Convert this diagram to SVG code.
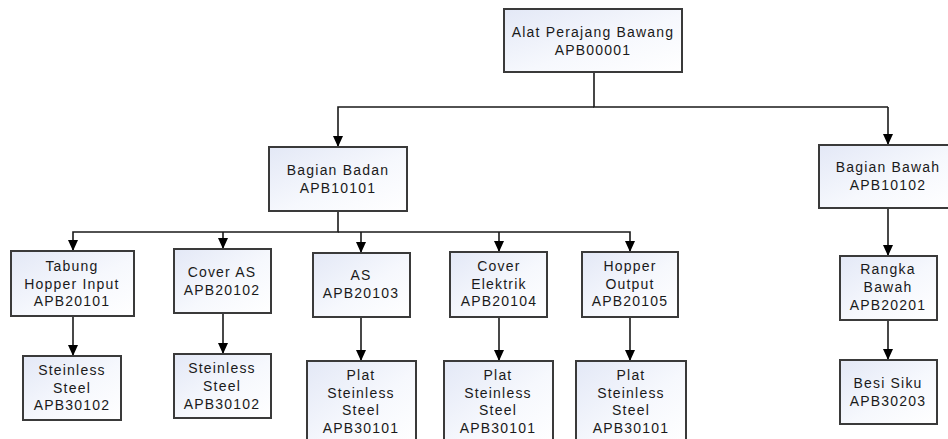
<svg xmlns="http://www.w3.org/2000/svg" width="948" height="439" viewBox="0 0 948 439">
  <style>
    .box { fill: url(#boxFill); stroke: #3a3a3a; stroke-width: 2; }
    .lbl { font-family: "Liberation Sans", Arial, sans-serif; font-size: 14px; fill: #1a1a1a; text-anchor: middle; letter-spacing: 1.2px; }
    .wire { fill: none; stroke: #1a1a1a; stroke-width: 1.6; }
  </style>
  <defs>
    <linearGradient id="boxFill" x1="0" y1="0" x2="1" y2="1">
      <stop offset="0" stop-color="#e3e8f6"/>
      <stop offset="0.55" stop-color="#f6f8fd"/>
      <stop offset="1" stop-color="#ffffff"/>
    </linearGradient>
    <marker id="arrow" markerUnits="userSpaceOnUse" markerWidth="12" markerHeight="10" refX="11" refY="5" orient="auto">
      <path d="M0,0 L11,5 L0,10 Z" fill="#000"/>
    </marker>
  </defs>
  <rect width="948" height="439" fill="#ffffff"/>

  <g id="connectors">
    <path class="wire" d="M594,72 V107 H888"/>
    <path class="wire" d="M594,107 H338 V147" marker-end="url(#arrow)"/>
    <path class="wire" d="M888,107 V145" marker-end="url(#arrow)"/>
    <path class="wire" d="M338,211 V232 H73 V251" marker-end="url(#arrow)"/>
    <path class="wire" d="M223,232 V249" marker-end="url(#arrow)"/>
    <path class="wire" d="M338,232 H630 V252" marker-end="url(#arrow)"/>
    <path class="wire" d="M361,232 V253" marker-end="url(#arrow)"/>
    <path class="wire" d="M499,232 V252" marker-end="url(#arrow)"/>
    <path class="wire" d="M73,316 V356" marker-end="url(#arrow)"/>
    <path class="wire" d="M223,313 V354" marker-end="url(#arrow)"/>
    <path class="wire" d="M361,317 V361" marker-end="url(#arrow)"/>
    <path class="wire" d="M499,317 V361" marker-end="url(#arrow)"/>
    <path class="wire" d="M630,317 V361" marker-end="url(#arrow)"/>
    <path class="wire" d="M888,208 V256" marker-end="url(#arrow)"/>
    <path class="wire" d="M888,320 V360" marker-end="url(#arrow)"/>
  </g>

  <g id="apb00001">
    <rect class="box" x="504" y="9" width="178" height="63"/>
    <text class="lbl" x="593" y="37">Alat Perajang Bawang</text>
    <text class="lbl" x="593" y="55">APB00001</text>
  </g>
  <g id="apb10101">
    <rect class="box" x="269" y="147" width="138" height="64"/>
    <text class="lbl" x="338" y="175">Bagian Badan</text>
    <text class="lbl" x="338" y="193">APB10101</text>
  </g>
  <g id="apb10102">
    <rect class="box" x="819" y="145" width="138" height="63"/>
    <text class="lbl" x="888" y="172">Bagian Bawah</text>
    <text class="lbl" x="888" y="190">APB10102</text>
  </g>
  <g id="apb20101">
    <rect class="box" x="11" y="251" width="123" height="65"/>
    <text class="lbl" x="72" y="271">Tabung</text>
    <text class="lbl" x="72" y="288.5">Hopper Input</text>
    <text class="lbl" x="72" y="306">APB20101</text>
  </g>
  <g id="apb20102">
    <rect class="box" x="174" y="249" width="97" height="64"/>
    <text class="lbl" x="222" y="277">Cover AS</text>
    <text class="lbl" x="222" y="295">APB20102</text>
  </g>
  <g id="apb20103">
    <rect class="box" x="313" y="253" width="97" height="64"/>
    <text class="lbl" x="361" y="280">AS</text>
    <text class="lbl" x="361" y="298">APB20103</text>
  </g>
  <g id="apb20104">
    <rect class="box" x="450" y="252" width="97" height="65"/>
    <text class="lbl" x="499" y="271">Cover</text>
    <text class="lbl" x="499" y="288.5">Elektrik</text>
    <text class="lbl" x="499" y="306">APB20104</text>
  </g>
  <g id="apb20105">
    <rect class="box" x="582" y="252" width="96" height="65"/>
    <text class="lbl" x="630" y="271">Hopper</text>
    <text class="lbl" x="630" y="288.5">Output</text>
    <text class="lbl" x="630" y="306">APB20105</text>
  </g>
  <g id="apb20201">
    <rect class="box" x="840" y="256" width="97" height="64"/>
    <text class="lbl" x="888" y="274">Rangka</text>
    <text class="lbl" x="888" y="292">Bawah</text>
    <text class="lbl" x="888" y="310">APB20201</text>
  </g>
  <g id="apb30102-a">
    <rect class="box" x="23" y="356" width="98" height="64"/>
    <text class="lbl" x="72" y="375">Steinless</text>
    <text class="lbl" x="72" y="392.5">Steel</text>
    <text class="lbl" x="72" y="410">APB30102</text>
  </g>
  <g id="apb30102-b">
    <rect class="box" x="174" y="354" width="97" height="64"/>
    <text class="lbl" x="222" y="373">Steinless</text>
    <text class="lbl" x="222" y="391">Steel</text>
    <text class="lbl" x="222" y="409">APB30102</text>
  </g>
  <g id="apb30101-a">
    <rect class="box" x="307" y="361" width="109" height="85"/>
    <text class="lbl" x="361" y="380">Plat</text>
    <text class="lbl" x="361" y="397.5">Steinless</text>
    <text class="lbl" x="361" y="415">Steel</text>
    <text class="lbl" x="361" y="432.5">APB30101</text>
  </g>
  <g id="apb30101-b">
    <rect class="box" x="444" y="361" width="109" height="85"/>
    <text class="lbl" x="498" y="380">Plat</text>
    <text class="lbl" x="498" y="397.5">Steinless</text>
    <text class="lbl" x="498" y="415">Steel</text>
    <text class="lbl" x="498" y="432.5">APB30101</text>
  </g>
  <g id="apb30101-c">
    <rect class="box" x="576" y="361" width="110" height="85"/>
    <text class="lbl" x="631" y="380">Plat</text>
    <text class="lbl" x="631" y="397.5">Steinless</text>
    <text class="lbl" x="631" y="415">Steel</text>
    <text class="lbl" x="631" y="432.5">APB30101</text>
  </g>
  <g id="apb30203">
    <rect class="box" x="840" y="360" width="97" height="64"/>
    <text class="lbl" x="888" y="388">Besi Siku</text>
    <text class="lbl" x="888" y="406">APB30203</text>
  </g>
</svg>
